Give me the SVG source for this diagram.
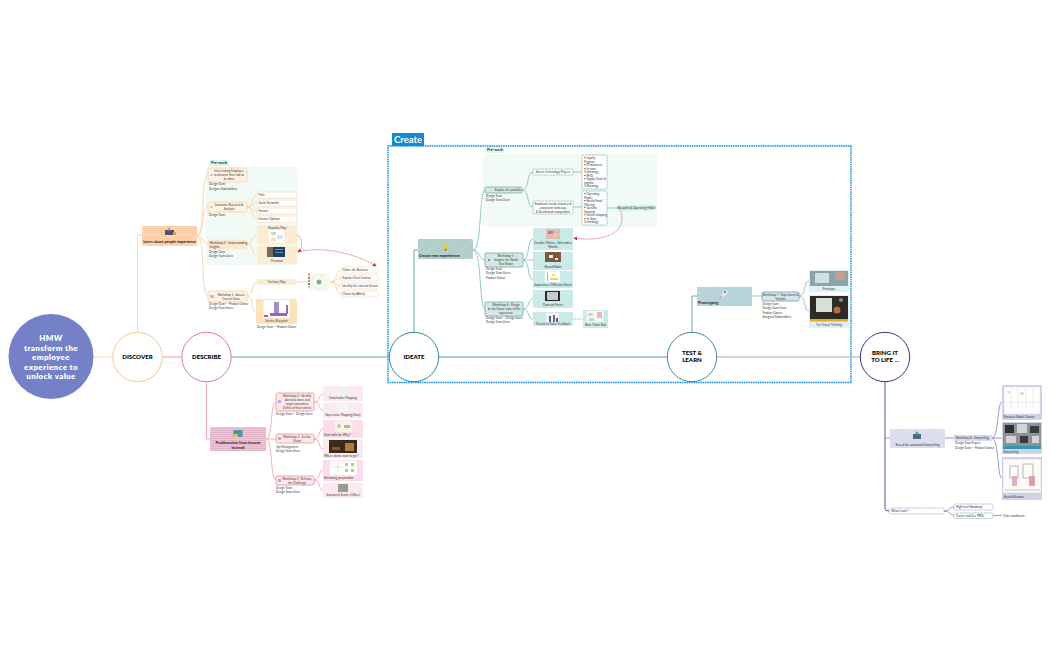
<svg xmlns="http://www.w3.org/2000/svg" width="1050" height="650" viewBox="0 0 1050 650">
<style>
text{font-family:"Lato","Open Sans","Liberation Sans",sans-serif;fill:#444}
.s{font-size:2.9px;fill:#333}
.s2{font-size:3px;fill:#333}
.m{font-size:3px;text-anchor:middle;fill:#3a3a3a}
.h{font-size:3.85px;font-weight:700;fill:#222}
.hm{font-size:3.85px;font-weight:700;fill:#222;text-anchor:middle}
.stage{font-size:6.1px;font-weight:900;fill:#000;text-anchor:middle}
.tag{font-size:3.9px;font-weight:700;fill:#333;text-anchor:middle}
.w{fill:#fff;font-size:8px;font-weight:800;text-anchor:middle;letter-spacing:.35px}
.c{fill:#fff;stroke-width:1}
.co{fill:none;stroke:#fbd6ab;stroke-width:1}
.cp{fill:none;stroke:#f5aeb6;stroke-width:1}
.ct{fill:none;stroke:#93cbc5;stroke-width:1}
.cb{fill:none;stroke:#9cc2cf;stroke-width:1}
.cv{fill:none;stroke:#6f71ad;stroke-width:.7}
.red{fill:none;stroke:#c8323c;stroke-width:.6;stroke-dasharray:1.2 .6}
.o1{fill:#fff3e3;stroke:#fad3a4;stroke-width:.9}
.o2{fill:#fbe8cf;stroke:#fbe8cf}
.od{fill:#fff;stroke:#fbd0a0;stroke-width:.7;stroke-dasharray:1 .4}
.ocard{fill:#fbedd2}
.p1{fill:#fde7e8;stroke:#ee9aa4;stroke-width:.9}
.t1{fill:#d3e8e5;stroke:#84b3ae;stroke-width:.9}
.td{fill:#fff;stroke:#6faaa4;stroke-width:.7;stroke-dasharray:1 .5}
.b1{fill:#d7e6ea;stroke:#7fa6b3;stroke-width:.9}
.vd{fill:#fff;stroke:#6f71ad;stroke-width:.5;stroke-dasharray:1 .5}
.vcard{fill:#d0d2ea}
.r{filter:url(#rough)}
</style>
<defs>
<filter id="rough" x="-5%" y="-10%" width="110%" height="120%"><feTurbulence type="fractalNoise" baseFrequency=".7" numOctaves="2" seed="3"/><feDisplacementMap in="SourceGraphic" scale="1.200"/></filter>
<pattern id="hO" width="2" height="2" patternUnits="userSpaceOnUse"><rect width="2" height="2" fill="#fdd9b8"/><rect width="2" height=".8" fill="#fcc9a0"/></pattern>
<pattern id="hO2" width="2" height="2" patternUnits="userSpaceOnUse" patternTransform="rotate(-45)"><rect width="2" height="2" fill="#fde9c8"/><rect width="2" height=".7" fill="#fbd9a5"/></pattern>
<pattern id="hP" width="2" height="2" patternUnits="userSpaceOnUse"><rect width="2" height="2" fill="#edc7d6"/><rect width="2" height=".7" fill="#dfa9c0"/></pattern>
<pattern id="hT" width="2" height="2" patternUnits="userSpaceOnUse" patternTransform="rotate(-45)"><rect width="2" height="2" fill="#c5dcd8"/><rect width="2" height=".9" fill="#9dbfbb"/></pattern>
<pattern id="hB" width="2" height="2" patternUnits="userSpaceOnUse" patternTransform="rotate(-45)"><rect width="2" height="2" fill="#c9e0e6"/><rect width="2" height=".9" fill="#a2c3cd"/></pattern>
<pattern id="hV" width="2" height="2" patternUnits="userSpaceOnUse" patternTransform="rotate(-45)"><rect width="2" height="2" fill="#e3e4f3"/><rect width="2" height=".7" fill="#cfd1e8"/></pattern>
<pattern id="hC" width="2" height="2" patternUnits="userSpaceOnUse" patternTransform="rotate(-45)"><rect width="2" height="2" fill="#cfeeec"/><rect width="2" height=".7" fill="#bfe5e2"/></pattern>
<pattern id="hK" width="2" height="2" patternUnits="userSpaceOnUse" patternTransform="rotate(-45)"><rect width="2" height="2" fill="#fde3ee"/><rect width="2" height=".7" fill="#fbd3e3"/></pattern>
<marker id="arr" viewBox="0 0 6 6" refX="5" refY="3" markerWidth="4" markerHeight="4" markerUnits="userSpaceOnUse" orient="auto"><path d="M0,0L6,3L0,6z" fill="#c8323c"/></marker>
</defs>
<rect width="1050" height="650" fill="#fff"/>

<g id="backgrounds">
<rect x="206" y="167" width="92" height="98" rx="4" fill="#f2faf6"/>
<rect x="483" y="154" width="174" height="73" fill="#f2faf6"/>
<rect x="388" y="146" width="463" height="236.500" fill="none" stroke="#1a90dc" stroke-width="1.400" stroke-dasharray="1.600 .7"/>
</g>

<g id="connectors">
<path d="M93.500 357H113" fill="none" stroke="#fbd6ab" stroke-width="1"/>
<path d="M162 357H182" fill="none" stroke="#f5aeb6" stroke-width="1.200"/>
<path d="M231 357H390" fill="none" stroke="#6caaa8" stroke-width="1"/>
<path d="M439 357H667" fill="none" stroke="#5c9aa0" stroke-width="1"/>
<path d="M717 357H860" fill="none" stroke="#a4a8cc" stroke-width="1.200"/>
<path d="M137.500 332V235H142" class="co"/>
<path d="M197 236C206 236 200 175 208 175" class="co"/>
<path d="M197 236C204 236 201 207 208 207" class="co"/>
<path d="M197 236C204 236 202 244 208 244" class="co"/>
<path d="M197 236C206 236 200 296 208 296" class="co"/>
<path d="M247 207C253 207 252 195 257 195M247 207C253 207 252 203 257 203M247 207C253 207 252 211 257 211M247 207C253 207 252 219 257 219" class="co"/>
<path d="M247 244C254 244 251 235 257 235M247 244C254 244 251 255 257 255" class="co"/>
<path d="M247 296C254 296 251 282 257 282M247 296C254 296 251 312 256 312" class="co"/>
<path d="M296 282H308" class="co"/>
<path d="M330 282C338 282 335 270 341 270M330 282C338 282 335 278 341 278M330 282C338 282 335 286 341 286M330 282C338 282 335 294 341 294" class="co"/>
<path d="M297 235C303 238 303 248 298 252" class="red" marker-end="url(#arr)"/>
<path d="M298 252C315 247 350 250 376 266" class="red" marker-end="url(#arr)"/>

<path d="M206.500 382V439H210" class="cp"/>
<path d="M266 439C273 439 270 402 276 402M266 439H276M266 439C273 439 270 480 276 480" class="cp"/>
<path d="M314 402C321 402 318 394 323 394M314 402C321 402 318 410 323 410M314 439C321 439 318 429 323 429M314 439C321 439 318 449 323 449M314 480C321 480 318 470 323 470M314 480C321 480 318 490 323 490" class="cp"/>

<path d="M414 332V250H418" fill="none" stroke="#5a9f9c" stroke-width=".9"/>
<path d="M473 250C482 250 479 190 485 190M473 250C480 250 479 260 485 260M473 250C482 250 479 309 485 309" class="ct"/>
<path d="M522 190C530 190 526 172 533 172M522 190C530 190 526 207 533 207" class="ct"/>
<path d="M573 172H582M573 207H582M607 208H618" class="ct"/>
<path d="M523 260C530 260 527 239 533 239M523 260H533M523 260C530 260 527 280 533 280M523 309C530 309 527 299 533 299M523 309C530 309 527 319 533 319" class="ct"/>
<path d="M573 319H583" fill="none" stroke="#c3e6e3" stroke-width="1.400"/>
<path d="M620 209C630 235 600 242 574 238" class="red" marker-end="url(#arr)"/>

<path d="M692 332V296H697" fill="none" stroke="#5c9ab0" stroke-width=".9"/>
<path d="M752 296H762" class="cb"/>
<path d="M799 296C807 296 803 281 809 281M799 296C807 296 803 311 809 311" class="cb"/>

<path d="M885 382V509Q885 511 889 511" fill="none" stroke="#3f418c" stroke-width=".9"/>
<path d="M885 438H890M945 438H954M992 438H1002" class="cv"/>
<path d="M992 438C999 438 997 402 1002 402M992 438C999 438 997 478 1002 478" class="cv"/>
<path d="M944 511C950 511 949 507 954 507M944 511C950 511 949 515 954 515" class="cv"/>
<path d="M993 515.500H1002" class="cv"/>
</g>

<g id="root"><circle cx="51" cy="356.500" r="42.500" fill="#7480c8"/>
<text x="51" y="341" class="w" style="fill:#fff">HMW</text><text x="51" y="350.500" class="w" style="fill:#fff">transform the</text><text x="51" y="360" class="w" style="fill:#fff">employee</text><text x="51" y="369.500" class="w" style="fill:#fff">experience to</text><text x="51" y="379" class="w" style="fill:#fff">unlock value</text></g>
<g id="discover"><circle cx="137.500" cy="357" r="24.700" class="c" stroke="#fbc987"/><text x="137.500" y="359" class="stage">DISCOVER</text></g>
<g id="describe"><circle cx="206.500" cy="357" r="24.700" class="c" stroke="#ea7a86"/><text x="206.500" y="359" class="stage">DESCRIBE</text></g>
<g id="ideate"><circle cx="414" cy="357" r="24.700" class="c" stroke="#2f8a8a"/><text x="414" y="359" class="stage">IDEATE</text></g>
<g id="test"><circle cx="692" cy="357" r="24.700" class="c" stroke="#3e8a9c"/><text x="692" y="355" class="stage">TEST &amp;</text><text x="692" y="362" class="stage">LEARN</text></g>
<g id="bring"><circle cx="885" cy="357" r="24.700" class="c" stroke="#33357f"/><text x="885" y="355" class="stage">BRING IT</text><text x="885" y="362" class="stage">TO LIFE ...</text></g>
<g id="create-tag"><rect x="392" y="133" width="32" height="13" fill="#0f8ad6"/><text x="408" y="142.800" font-size="9.500" font-weight="700" text-anchor="middle" style="fill:#fff">Create</text></g>

<g id="learn"><rect x="142" y="226" width="55" height="20" class="r" fill="url(#hO)"/>
<rect x="165" y="230" width="9" height="5" fill="#4a5470"/><circle cx="169" cy="229" r="1.500" fill="#d9a05b"/><rect x="173" y="232" width="3" height="3" fill="#e0a030"/>
<text x="169.500" y="243" class="hm">Learn about people experience</text></g>
<g id="prework1"><rect x="209" y="160" width="20" height="6" rx="1" fill="#d9f5e8"/><text x="219" y="164.400" class="tag">Pre-work</text></g>
<g id="interview"><rect x="208" y="168" width="39" height="14" rx="1.500" class="o1"/><circle cx="211.500" cy="175" r="1" fill="#6cc"/><text class="m"><tspan x="229" y="171.800">Interviewing Employee</tspan><tspan x="229" y="175.800">to discover their Job to</tspan><tspan x="229" y="179.800">be done</tspan></text><text class="s"><tspan x="209" y="185">Design Team</tspan><tspan x="209" y="189.500">Designer Stakeholders</tspan></text></g>
<g id="research"><rect x="208" y="202" width="39" height="10" rx="1.500" class="o1"/><circle cx="211.500" cy="207" r="1" fill="#6cc"/><text class="m"><tspan x="229" y="206.300">Consumer Research &amp;</tspan><tspan x="229" y="210">Analysis</tspan></text><text x="209" y="215.500" class="s">Design Team</text></g>
<g id="polls"><rect x="257" y="192" width="40" height="6" rx="1.500" class="od"/><text x="258.500" y="196" class="s">Polls</text></g>
<g id="social"><rect x="257" y="200" width="40" height="6" rx="1.500" class="od"/><text x="258.500" y="204" class="s">Social Networks</text></g>
<g id="forums"><rect x="257" y="208" width="40" height="6" rx="1.500" class="od"/><text x="258.500" y="212" class="s">Forums</text></g>
<g id="opinion"><rect x="257" y="216" width="40" height="6.500" rx="1.500" class="od"/><text x="258.500" y="220.300" class="s">Internet Opinion</text></g>
<g id="ws-understand"><rect x="208" y="240" width="39" height="9" rx="1" class="o2"/><text class="s2"><tspan x="209.500" y="244">Workshop 2 : Understanding</tspan><tspan x="209.500" y="247.700">Insights</tspan></text><text class="s"><tspan x="209" y="252.500">Design Team</tspan><tspan x="209" y="256.500">Design Team Users</tspan></text></g>
<g id="empathy"><rect x="257" y="225" width="40" height="19.500" rx="2" class="ocard"/><text x="277" y="228.500" class="m">Empathy Map</text><rect x="269" y="230" width="15" height="13" fill="#fff"/><rect x="271" y="232" width="5" height="3" fill="#bfe3c4"/><rect x="277" y="235" width="6" height="4" fill="#cfe6f4"/><rect x="271" y="238" width="5" height="3" fill="#f0e4a8"/></g>
<g id="personas"><rect x="257" y="246" width="40" height="18" rx="2" class="ocard"/><rect x="267" y="247" width="6" height="10" fill="#7a6a5c"/><rect x="273" y="247" width="12" height="10" fill="#1d3f6e"/><rect x="275" y="249" width="8" height="1" fill="#6c8fb0"/><rect x="275" y="252" width="8" height="1" fill="#6c8fb0"/><text x="277" y="261.500" class="m">Personas</text></g>
<g id="ws-assess"><rect x="208" y="291" width="39" height="11" rx="1.500" class="o1"/><rect x="210" y="295" width="4" height="3" fill="#c4b8e8"/><text class="m"><tspan x="231" y="295.800">Workshop 1 : Assess</tspan><tspan x="231" y="299.500">Current State</tspan></text><text class="s"><tspan x="209" y="305">Design Team — Product Owner</tspan><tspan x="209" y="309">Design Team Users</tspan></text></g>
<g id="territory"><rect x="257" y="279" width="39" height="6" rx="1" fill="#fbecd3"/><text x="276.500" y="283" class="m">Territory Map</text></g>
<g id="territory-img"><rect x="308" y="273" width="22" height="18" fill="#fafaf4"/><circle cx="319" cy="282" r="7" fill="none" stroke="#eeea9a" stroke-width="1.500" stroke-dasharray="1 1"/><circle cx="319" cy="282" r="2.500" fill="#6bb39a"/><rect x="308" y="273" width="2" height="3" fill="#f0b030"/><rect x="308" y="277" width="2" height="2" fill="#e05a8a"/><rect x="308" y="280" width="2" height="2" fill="#60c060"/><rect x="308" y="283" width="2" height="2" fill="#7a6ac8"/><rect x="308" y="286" width="2" height="2" fill="#f0d040"/></g>
<g id="define"><rect x="341" y="267" width="37" height="6" rx="1.500" class="od"/><text x="342.500" y="271" class="s">Define the Business</text></g>
<g id="client"><rect x="341" y="275" width="37" height="6" rx="1.500" class="od"/><text x="342.500" y="279" class="s">Explain Client Context</text></g>
<g id="factors"><rect x="341" y="283" width="37" height="6" rx="1.500" class="od"/><text x="342.500" y="287" class="s">Identify the external factors</text></g>
<g id="affinity"><rect x="341" y="291" width="37" height="6" rx="1.500" class="od"/><text x="342.500" y="295" class="s">Cluster by Affinity</text></g>
<g id="blueprint"><rect x="256" y="299" width="41" height="25" rx="1.500" class="r" fill="url(#hO2)"/><rect x="263.500" y="300" width="26" height="18" fill="#fff"/><rect x="270" y="313" width="17" height="3" fill="#8a6cb8"/><rect x="274" y="302" width="5" height="11" fill="#a78ccc"/><rect x="286" y="305" width="2" height="9" fill="#8a6cb8"/><rect x="264" y="315" width="4" height="2" fill="#8a6cb8"/><text x="276.500" y="322" class="m">Service Blueprint</text><text x="257" y="327.500" class="s">Design Team — Product Owner</text></g>

<g id="problematize"><rect x="210" y="427" width="56" height="24" class="r" fill="url(#hP)"/><rect x="233.500" y="430" width="9" height="7" fill="#3d9bb0"/><rect x="234" y="434" width="4" height="3" fill="#e8c040"/><text class="hm"><tspan x="238" y="444">Problematize from lessons</tspan><tspan x="238" y="448.500">learned</tspan></text></g>
<g id="ws-identify"><rect x="276" y="393" width="38" height="18" rx="1.500" class="p1"/><rect x="278" y="400" width="3" height="3" fill="#a8b4e8"/><text class="m"><tspan x="297" y="397.200">Workshop 2 : Identify</tspan><tspan x="297" y="401.200">Job to be done and</tspan><tspan x="297" y="405.200">target consumers</tspan><tspan x="297" y="409.200">Define of their stories</tspan></text><text x="276" y="414.500" class="s">Design Team — Design Users</text></g>
<g id="ws-vision"><rect x="276" y="434" width="38" height="9" rx="1.500" class="p1"/><rect x="278" y="437" width="3" height="3" fill="#a8b4e8"/><text class="m"><tspan x="297" y="438">Workshop 3 : Set the</tspan><tspan x="297" y="441.600">Vision</tspan></text><text class="s"><tspan x="276" y="447.500">Top Management</tspan><tspan x="276" y="451.500">Design Team Users</tspan></text></g>
<g id="ws-reframe"><rect x="276" y="476" width="38" height="9" rx="1.500" class="p1"/><rect x="278" y="479" width="3" height="3" fill="#a8b4e8"/><text class="m"><tspan x="297" y="480">Workshop 4 : Reframe</tspan><tspan x="297" y="483.600">the Challenge</tspan></text><text class="s"><tspan x="276" y="489">Design Team</tspan><tspan x="276" y="493">Design Team Users</tspan></text></g>
<g id="stakeholder"><rect x="323" y="386" width="40" height="15" fill="#fdeaf1"/><rect x="338" y="387" width="10" height="8" fill="#eef1ee"/><text x="343" y="398.500" class="m">Stakeholder Mapping</text></g>
<g id="experience"><rect x="323" y="403" width="40" height="15" fill="#fdeaf1"/><rect x="338" y="404" width="10" height="8" fill="#f4f6f4"/><text x="343" y="416" class="m">Experience Mapping/Story</text></g>
<g id="why"><rect x="323" y="420" width="40" height="18" class="r" fill="url(#hK)"/><rect x="335" y="421" width="17" height="11" fill="#f5f3ea"/><circle cx="339" cy="426" r="2" fill="#c9c6a8"/><rect x="344" y="425" width="6" height="3" fill="#d8a878"/><text x="324" y="436" class="s2">Start with the Why ?</text></g>
<g id="where"><rect x="323" y="439" width="40" height="19" fill="#fdeaf1"/><rect x="329" y="440" width="28" height="13" fill="#3a2a1a"/><rect x="345" y="443" width="9" height="8" fill="#b07a40"/><rect x="332" y="447" width="8" height="3" fill="#8a5a20"/><text x="324" y="456.500" class="s2">Where do we want to go ?</text></g>
<g id="prep"><rect x="323" y="460" width="40" height="21" class="r" fill="url(#hK)"/><rect x="330" y="461" width="27" height="14" fill="#fff"/><rect x="345" y="463" width="3" height="3" fill="#a6d56a"/><rect x="351" y="463" width="3" height="3" fill="#a6d56a"/><rect x="345" y="469" width="3" height="3" fill="#a6d56a"/><rect x="351" y="469" width="3" height="3" fill="#a6d56a"/><path d="M333 467H343M338 463V472" stroke="#999" stroke-width=".3"/><text x="324" y="479" class="s2">Reframing preparation</text></g>
<g id="starter"><rect x="323" y="483" width="40" height="15" fill="#fdeaf1"/><rect x="338" y="484" width="10" height="8" fill="#9a9a92"/><text x="343" y="496" class="m">Statement Starter (Office)</text></g>

<g id="prework2"><rect x="486" y="147" width="18" height="6" fill="#e4f6ed"/><text x="495" y="151.400" class="tag">Pre-work</text></g>
<g id="create-exp"><rect x="418" y="239" width="55" height="20" class="r" fill="url(#hT)"/><ellipse cx="445.500" cy="246.500" rx="2.200" ry="2.800" fill="#f4c534"/><rect x="444.500" y="249" width="2" height="1.500" fill="#777"/><text x="419" y="256.500" class="h">Create new experiences</text></g>
<g id="explore"><rect x="485" y="187" width="37" height="6" rx="1.500" class="t1"/><text x="508" y="191" class="m">Explore the possible</text><text class="s"><tspan x="486" y="197">Design Team</tspan><tspan x="486" y="201">Design Team Users</tspan></text></g>
<g id="assess-tech"><rect x="533" y="169" width="40" height="6" rx="1" class="td"/><text x="553" y="173" class="m">Assess Technology Players</text></g>
<g id="empathize"><rect x="533" y="201" width="40" height="13" rx="1" class="td"/><text class="m"><tspan x="553" y="204.500">Emphasize inside Industry &amp;</tspan><tspan x="553" y="208.500">ecosystem landscape</tspan><tspan x="553" y="212.500">&amp; Benchmark competitors</tspan></text></g>
<g id="list1"><rect x="582" y="155" width="25" height="34" rx="1" class="td"/><text class="s"><tspan x="584" y="159">• Loyalty</tspan><tspan x="584" y="162.500">Program</tspan><tspan x="584" y="166">• E-commerce</tspan><tspan x="584" y="169.500">• In-store</tspan><tspan x="584" y="173">Technology</tspan><tspan x="584" y="176.500">• RFID</tspan><tspan x="584" y="180">• Supply Chain &amp;</tspan><tspan x="584" y="183.500">Logistic</tspan><tspan x="584" y="187">Technology</tspan></text></g>
<g id="list2"><rect x="582" y="191" width="25" height="34" rx="1" class="td"/><text class="s"><tspan x="584" y="195">• Operating</tspan><tspan x="584" y="198.500">Model</tspan><tspan x="584" y="202">• Health Food</tspan><tspan x="584" y="205.500">Offering</tspan><tspan x="584" y="209">• Genuine</tspan><tspan x="584" y="212.500">Sourcing</tspan><tspan x="584" y="216">• Online shopping</tspan><tspan x="584" y="219.500">• In-Store</tspan><tspan x="584" y="223">Technology</tspan></text></g>
<g id="blueprint-op"><rect x="618" y="205.500" width="37" height="5" rx="1" fill="#c8e8e4"/><text x="636.500" y="209" class="m">Blueprint &amp; Operating Model</text></g>
<g id="ws5"><rect x="485" y="253" width="38" height="14" rx="1" class="t1"/><rect x="488" y="259" width="2" height="2" fill="#9a7ce0"/><text class="m"><tspan x="506" y="257">Workshop 5 :</tspan><tspan x="506" y="261">Imagine the North</tspan><tspan x="506" y="265">Star Vision</tspan></text><text class="s"><tspan x="486" y="270">Design Team</tspan><tspan x="486" y="274">Design Team Users</tspan><tspan x="486" y="278.500">Product Owner</tspan></text></g>
<g id="ws6"><rect x="485" y="302" width="38" height="14" rx="1" class="t1"/><rect x="488" y="308" width="2" height="2" fill="#9a7ce0"/><text class="m"><tspan x="506" y="306">Workshop 6 : Design</tspan><tspan x="506" y="310">the future state of the</tspan><tspan x="506" y="314">experience</tspan></text><text class="s"><tspan x="486" y="319">Design Team — Design Users</tspan><tspan x="486" y="323">Design Team Users</tspan></text></g>
<g id="creative"><rect x="533" y="228" width="40" height="22" class="r" fill="url(#hC)"/><rect x="546" y="229" width="14" height="10" fill="#dcbcbc"/><rect x="548" y="231" width="5" height="3" fill="#e06a90"/><rect x="554" y="234" width="4" height="3" fill="#f0d070"/><text class="m"><tspan x="553" y="243.500">Creative Matrix + Alternative</tspan><tspan x="553" y="247.500">Worlds</tspan></text></g>
<g id="robin"><rect x="533" y="252" width="40" height="18" class="r" fill="url(#hC)"/><rect x="545" y="252" width="16" height="10" fill="#7a5a3a"/><rect x="549" y="255" width="4" height="3" fill="#e8ece8"/><rect x="555" y="258" width="3" height="2" fill="#e8ece8"/><text x="553" y="267.500" class="m">Round Robin</text></g>
<g id="matrix"><rect x="533" y="271" width="40" height="17" class="r" fill="url(#hC)"/><rect x="545" y="271.500" width="15" height="10.500" fill="#fff"/><rect x="547" y="273" width=".7" height="8" fill="#888"/><rect x="550" y="278" width="8" height="2" fill="#e8d860"/><rect x="552" y="274" width="3" height="1.500" fill="#e8d860"/><text x="553" y="285.500" class="m">Importance/Difficulty Matrix</text></g>
<g id="poster"><rect x="533" y="290" width="40" height="18" class="r" fill="url(#hC)"/><rect x="545" y="291" width="15" height="10" fill="#2a2a2e"/><rect x="547" y="292" width="11" height="8" fill="#c8c8cc"/><text x="553" y="305.500" class="m">Concept Poster</text></g>
<g id="dissent"><rect x="533" y="312" width="40" height="14" class="r" fill="url(#hC)"/><rect x="546" y="313" width="13" height="9" fill="#f2f4f8"/><rect x="549" y="316" width="2" height="6" fill="#2f6bb0"/><rect x="553" y="315" width="2" height="7" fill="#d04050"/><rect x="556" y="318" width="2" height="4" fill="#2f6bb0"/><text x="553" y="324.800" class="m">Dissent to Value Feedback</text></g>
<g id="rose"><rect x="583" y="310" width="25" height="18" class="r" fill="url(#hC)"/><rect x="586.500" y="311" width="17" height="11" fill="#f4f9f4"/><rect x="588" y="313" width="5" height="3" fill="#f5c0d8"/><rect x="597" y="312" width="5" height="6" fill="#f5b0d0"/><rect x="589" y="318" width="5" height="3" fill="#bde0a8"/><text x="595.500" y="325.800" class="m">Rose Thorn Bud</text></g>

<g id="prototyping"><rect x="697" y="287" width="55" height="19" class="r" fill="url(#hB)"/><path d="M721 296l3-5 4-1-1 4-4 3z" fill="#e8e8f2"/><circle cx="725" cy="292" r="1" fill="#d04060"/><path d="M721 296l-1 1.500 1.500-.5z" fill="#e07030"/><text x="698" y="304" class="h">Prototyping</text></g>
<g id="ws7"><rect x="762" y="292" width="37" height="9" rx="1.500" class="b1"/><text class="m"><tspan x="780.500" y="296">Workshop 7 : Experiment &amp;</tspan><tspan x="780.500" y="299.600">Validate</tspan></text><text class="s"><tspan x="762.500" y="305">Design Team</tspan><tspan x="762.500" y="309">Design Team Users</tspan><tspan x="762.500" y="313.500">Product Owner</tspan><tspan x="762.500" y="317.500">Assigned Stakeholders</tspan></text></g>
<g id="prototype"><rect x="809" y="270" width="40" height="22" fill="#dff1f8"/><rect x="810" y="271" width="38" height="15" fill="#8aa4ac"/><rect x="815" y="273" width="14" height="10" fill="#d2dfe2"/><rect x="835" y="272" width="10" height="8" fill="#c4a08c"/><text x="829" y="290" class="m">Prototype</text></g>
<g id="visual"><rect x="809" y="295" width="40" height="33" fill="#dff1f8"/><rect x="810" y="296" width="38" height="23" fill="#2e2a24"/><rect x="816" y="298" width="16" height="14" fill="#d7dfd9"/><circle cx="837" cy="310" r="3.500" fill="#b46a3c"/><circle cx="841" cy="300" r="2" fill="#888"/><rect x="810" y="319" width="38" height="2.500" fill="#eda820"/><text x="829" y="325.800" class="m">Test Visual Thinking</text></g>

<g id="reveal"><rect x="890" y="429" width="55" height="19" class="r" fill="url(#hV)"/><rect x="913" y="434" width="8" height="5" fill="#4a6a8a"/><circle cx="917" cy="433" r="1.600" fill="#4caf7c"/><text x="917.500" y="445.500" class="m" style="fill:#333">Reveal the associated Storytelling</text></g>
<g id="ws8"><rect x="954" y="435" width="38" height="6" fill="#d8d9ef"/><text x="955.500" y="439" class="s2">Workshop 8 : Storytelling</text><text class="s"><tspan x="955" y="444">Design Team Expert</tspan><tspan x="955" y="448.500">Design Team — Product Owner</tspan></text></g>
<g id="canvas"><rect x="1002" y="385" width="40" height="35" class="vcard"/><rect x="1004" y="387" width="36" height="27" fill="#fff" stroke="#ccc" stroke-width=".3"/><path d="M1011 388V408M1018 388V408M1026 388V408M1033 388V408M1004 402H1040" stroke="#bbb" stroke-width=".3"/><rect x="1007" y="391" width="3" height="2" fill="#ddd"/><rect x="1020" y="392" width="4" height="3" fill="#ddd"/><text x="1003.500" y="418" class="s2">Business Model Canvas</text></g>
<g id="storytelling"><rect x="1002" y="422" width="40" height="32" class="vcard"/><rect x="1003" y="423" width="38" height="23" fill="#8f9294"/><rect x="1005" y="425" width="9" height="8" fill="#2d2f33"/><rect x="1017" y="424" width="10" height="9" fill="#d2d4d6"/><rect x="1030" y="426" width="9" height="7" fill="#3a3d40"/><rect x="1006" y="436" width="10" height="7" fill="#d2d4d6"/><rect x="1020" y="436" width="8" height="7" fill="#3a3d40"/><rect x="1032" y="436" width="7" height="7" fill="#d2d4d6"/><rect x="1003" y="446" width="38" height="3" fill="#2b9ab0"/><text x="1003.500" y="452.800" class="s2">Storytelling</text></g>
<g id="sketch"><rect x="1002" y="457" width="40" height="43" class="vcard"/><rect x="1003" y="459" width="38" height="34" fill="#fbfbf9" stroke="#bbb" stroke-width=".3"/><rect x="1010" y="466" width="8" height="12" fill="none" stroke="#555" stroke-width=".4"/><rect x="1023" y="464" width="10" height="14" fill="none" stroke="#555" stroke-width=".4"/><rect x="1012" y="476" width="5" height="10" fill="#e0b0c0"/><rect x="1029" y="476" width="6" height="10" fill="#e0a0a0"/><path d="M1005 490H1040" stroke="#777" stroke-width=".4"/><text x="1003.500" y="498" class="s2">Sketch Elevator</text></g>
<g id="next"><rect x="889" y="508" width="55" height="6" rx="1.500" class="vd"/><text x="891" y="512" class="s2">What's next ?</text></g>
<g id="roadmap"><rect x="954" y="504" width="39" height="6" rx="1.500" class="vd"/><text x="956" y="508" class="s2">High level Roadmap</text></g>
<g id="prds"><rect x="954" y="513" width="39" height="5.500" rx="1.500" class="td"/><text x="956" y="516.800" class="s2">Create and Use PRDs</text></g>
<g id="continued"><text x="1003" y="517" class="s2">To be continued ...</text></g>
</svg>
